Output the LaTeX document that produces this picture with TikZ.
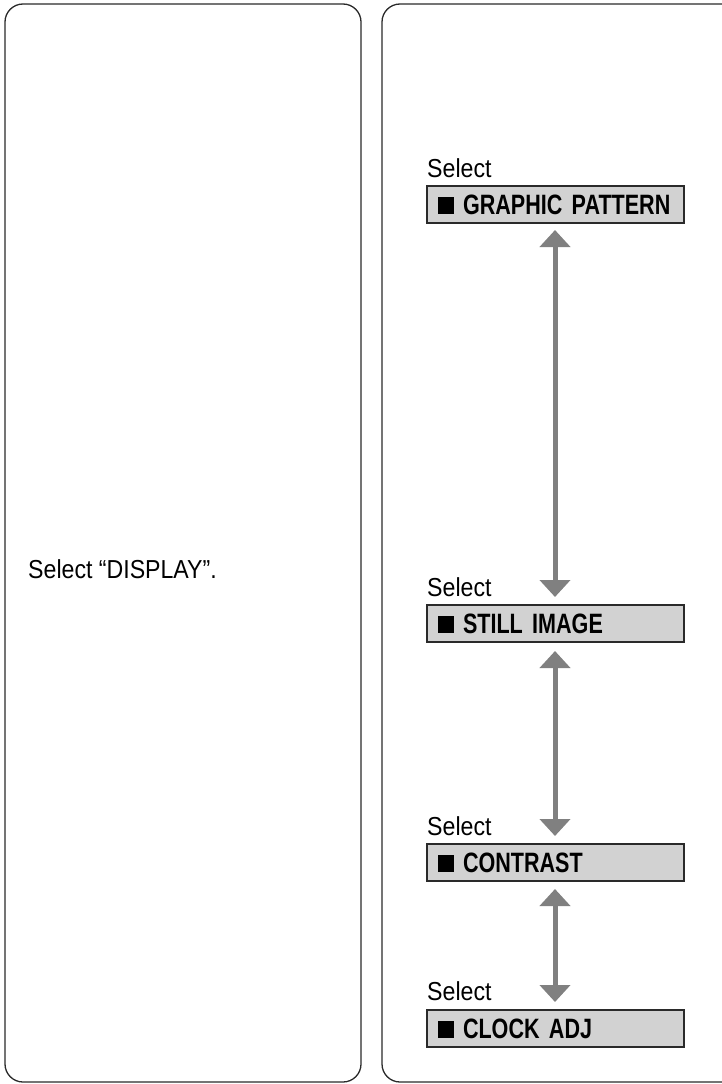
\documentclass[tikz,border=0pt]{standalone}
\usepackage{fontspec}
\setmainfont[FakeStretch=0.89]{Liberation Sans}
\newfontfamily\boldcond[FakeStretch=0.77,WordSpace=0.8]{Liberation Sans}
\usetikzlibrary{arrows.meta}
\definecolor{arrowgray}{HTML}{808080}
\definecolor{boxfill}{HTML}{D2D2D2}
\definecolor{edge}{HTML}{2A2A2A}
\tikzset{
  panel/.style={draw=edge, line width=1.3pt, rounded corners=18pt},
  menubox/.style={draw=edge, line width=2pt, fill=boxfill, minimum width=257pt, minimum height=37pt, anchor=north west, inner sep=0pt, text width=257pt, font=\fontsize{28}{30}\boldcond\bfseries},
  sellabel/.style={anchor=base west, inner sep=0pt, font=\fontsize{26}{28}\selectfont},
  dbl/.style={draw=arrowgray, line width=5pt, {Triangle[width=30pt,length=17pt]}-{Triangle[width=30pt,length=17pt]}, shorten <=0pt, shorten >=0pt}
}
\begin{document}
\begin{tikzpicture}[x=1pt,y=-1pt]
\useasboundingbox (0,0) rectangle (722,1084);
\begin{scope}
\clip (0,0) rectangle (722,1084);
\draw[panel] (5,4) rectangle (361,1082);
\draw[panel] (382,4) rectangle (742,1082);
\end{scope}
\node[sellabel] (lefttext) at (28,578) {Select “DISPLAY”.};
% boxes
\node[menubox] (b1) at (426,185) {\hspace*{11pt}\rule[0pt]{16pt}{17pt}\hspace{9pt}GRAPHIC PATTERN};
\node[menubox] (b2) at (426,604) {\hspace*{11pt}\rule[0pt]{16pt}{17pt}\hspace{9pt}STILL IMAGE};
\node[menubox] (b3) at (426,843) {\hspace*{11pt}\rule[0pt]{16pt}{17pt}\hspace{9pt}CONTRAST};
\node[menubox] (b4) at (426,1009) {\hspace*{11pt}\rule[0pt]{16pt}{17pt}\hspace{9pt}CLOCK ADJ};
% select labels
\node[sellabel] (s1) at (427,177) {Select};
\node[sellabel] (s2) at (427,596) {Select};
\node[sellabel] (s3) at (427,835) {Select};
\node[sellabel] (s4) at (427,1000) {Select};
% arrows
\coordinate (a1t) at (555,230);
\coordinate (a1b) at (555,597);
\coordinate (a2t) at (555,651);
\coordinate (a2b) at (555,836);
\coordinate (a3t) at (555,889);
\coordinate (a3b) at (555,1002);
\draw[dbl] (a1t) -- (a1b);
\draw[dbl] (a2t) -- (a2b);
\draw[dbl] (a3t) -- (a3b);
\end{tikzpicture}
\end{document}
